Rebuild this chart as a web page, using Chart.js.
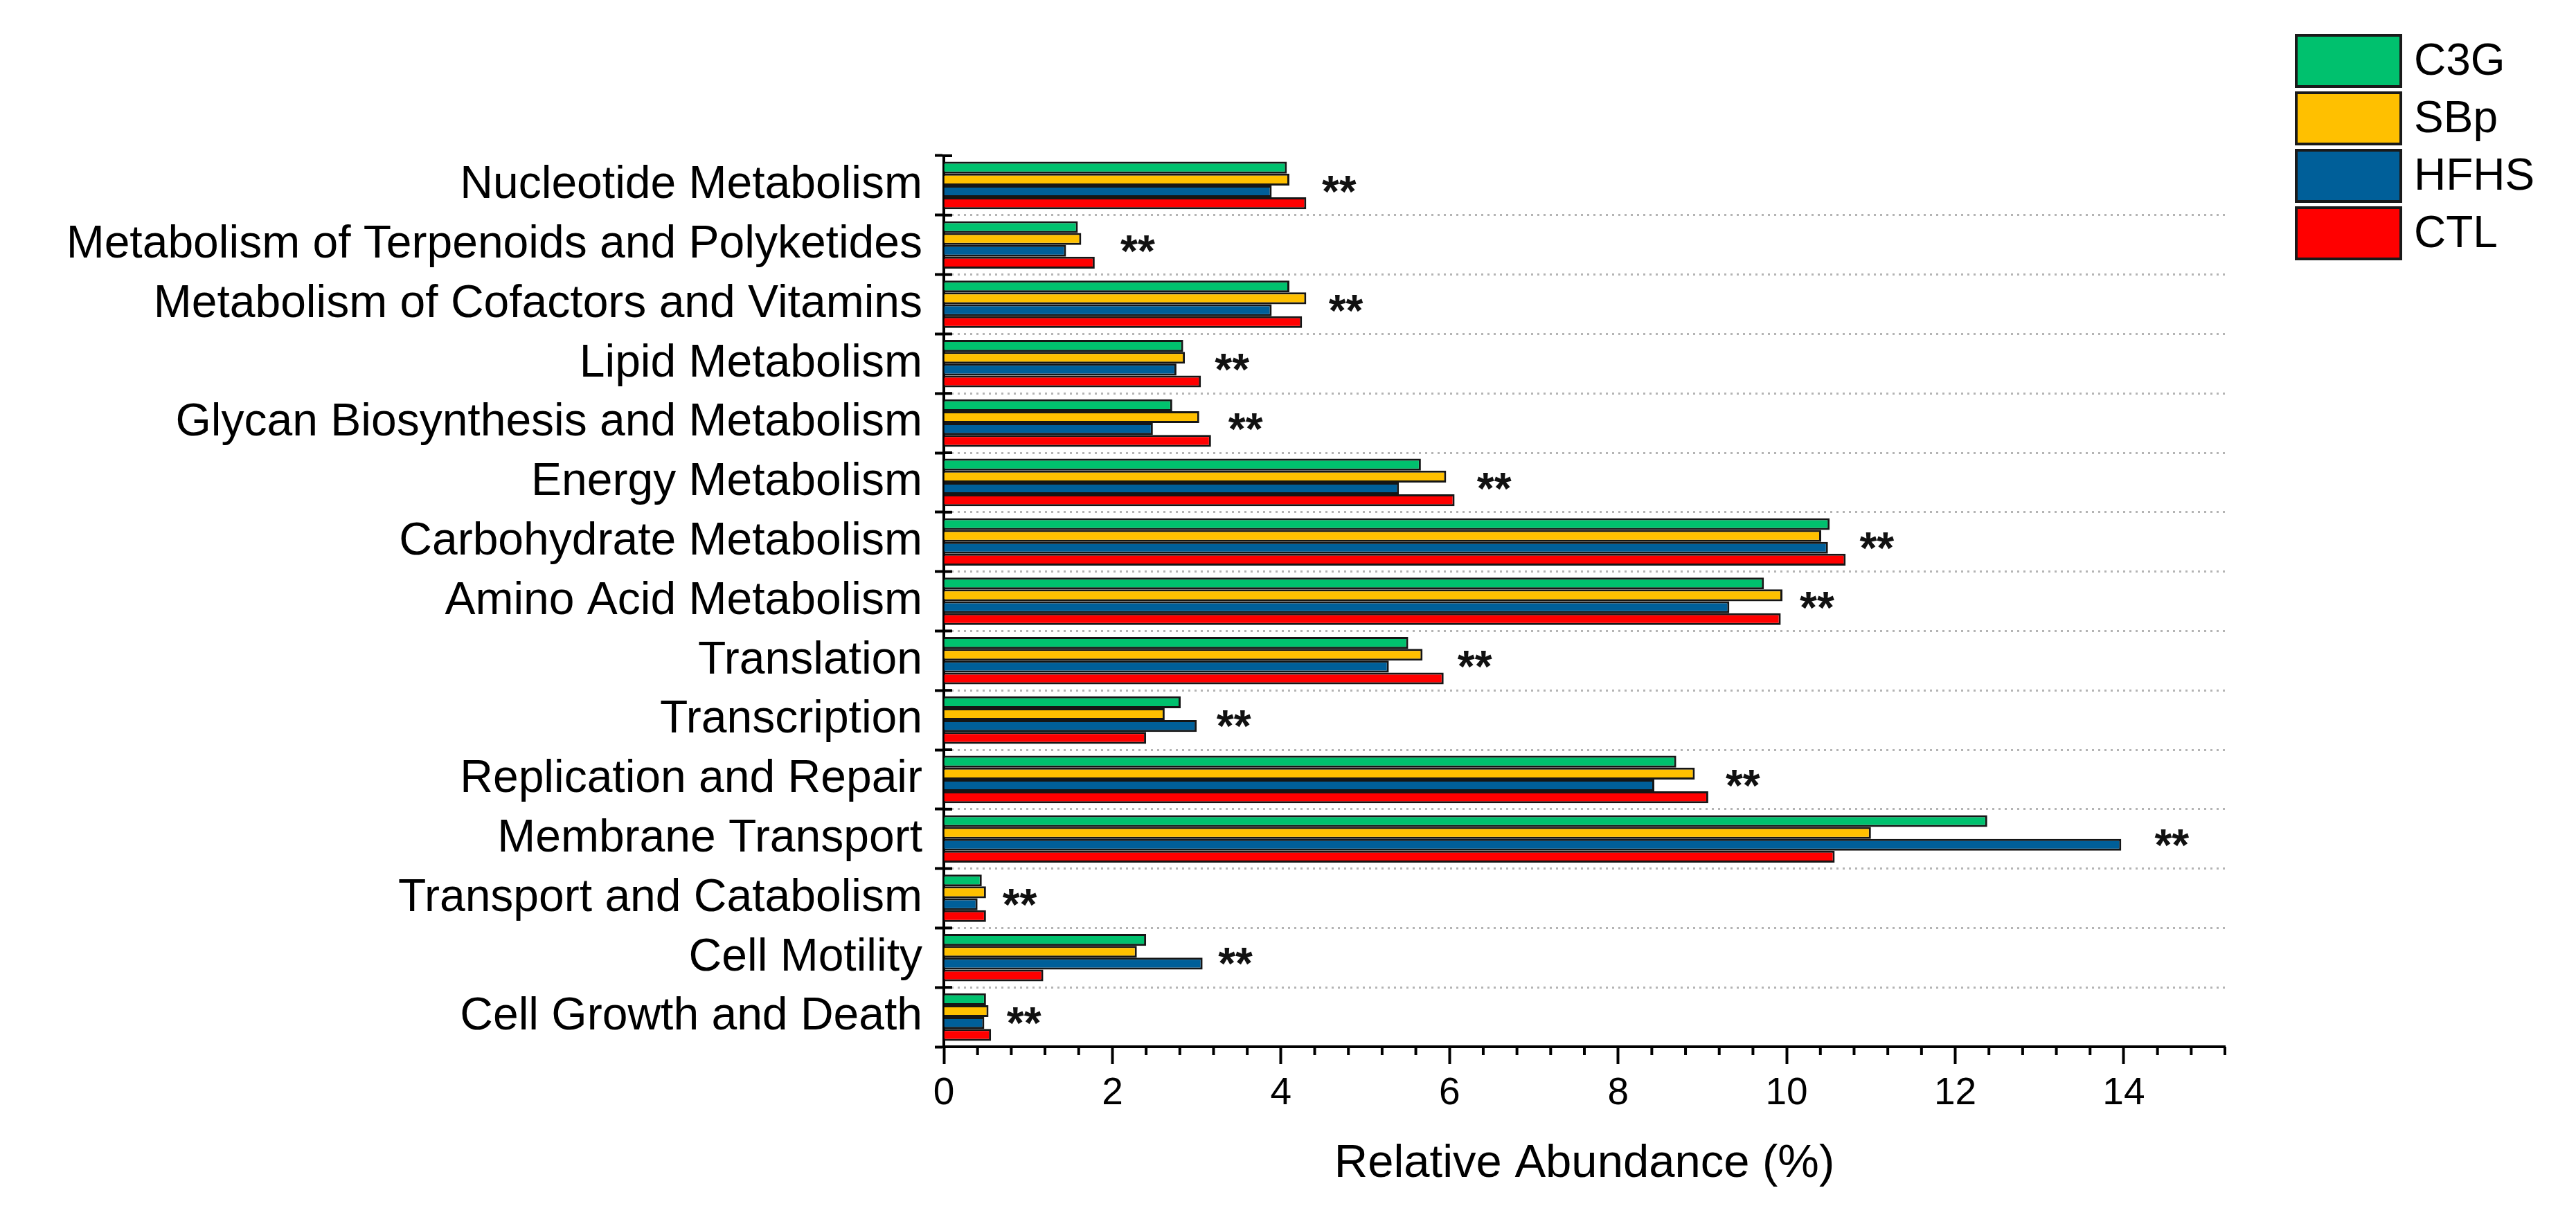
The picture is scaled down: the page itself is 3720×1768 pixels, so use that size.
<!DOCTYPE html>
<html>
<head>
<meta charset="utf-8">
<script src="https://cdn.jsdelivr.net/npm/chart.js@4.4.1/dist/chart.umd.min.js"></script>
<style>
  html, body { margin:0; padding:0; background:#fff; }
  #wrap { width:3720px; height:1768px; }
</style>
</head>
<body>
<div id="wrap"><canvas id="chart" width="3720" height="1768"></canvas></div>
<script>
// ================= DATA =================
const categories = [
  "Nucleotide Metabolism",
  "Metabolism of Terpenoids and Polyketides",
  "Metabolism of Cofactors and Vitamins",
  "Lipid Metabolism",
  "Glycan Biosynthesis and Metabolism",
  "Energy Metabolism",
  "Carbohydrate Metabolism",
  "Amino Acid Metabolism",
  "Translation",
  "Transcription",
  "Replication and Repair",
  "Membrane Transport",
  "Transport and Catabolism",
  "Cell Motility",
  "Cell Growth and Death"
];
const c3g  = [4.07, 1.59, 4.10, 2.84, 2.71, 5.66, 10.51, 9.73, 5.51, 2.81, 8.69, 12.38, 0.45, 2.40, 0.50];
const sbp  = [4.10, 1.63, 4.30, 2.86, 3.03, 5.96, 10.41, 9.95, 5.68, 2.62, 8.91, 11.00, 0.50, 2.29, 0.53];
const hfhs = [3.89, 1.45, 3.89, 2.76, 2.48, 5.40, 10.49, 9.32, 5.28, 3.00, 8.43, 13.97, 0.40, 3.07, 0.48];
const ctl  = [4.30, 1.79, 4.25, 3.05, 3.17, 6.06, 10.70, 9.93, 5.93, 2.40, 9.07, 10.57, 0.50, 1.18, 0.56];
// where the "**" marks sit (x value)
const starPos = [4.69, 2.30, 4.77, 3.42, 3.58, 6.53, 11.07, 10.36, 6.30, 3.44, 9.48, 14.57, 0.90, 3.46, 0.95];
const starText = "**";
const xTicks = [0, 2, 4, 6, 8, 10, 12, 14];
const xMax = 15.2;
const minorStep = 0.4;
const seriesNames = ["C3G", "SBp", "HFHS", "CTL"];
const seriesColors = ["#00c16e", "#ffc000", "#005f99", "#ff0000"];

const FONT = "'Liberation Sans', Arial, sans-serif";

// ================= PLUGINS =================
// stars next to each group
const starsPlugin = {
  id: "stars",
  afterDatasetsDraw(chart){
    const {ctx, scales:{x, y}} = chart;
    ctx.save();
    ctx.fillStyle = "#111";
    ctx.font = "bold 64px " + FONT;
    ctx.textAlign = "center";
    ctx.textBaseline = "alphabetic";
    starPos.forEach((v, i) => {
      ctx.fillText(starText, x.getPixelForValue(v), y.getPixelForValue(i) + 31);
    });
    ctx.restore();
  }
};

// minor ticks on x, inner half of y ticks
const ticksPlugin = {
  id: "extraTicks",
  afterDraw(chart){
    const {ctx, chartArea, scales:{x, y}} = chart;
    ctx.save();
    ctx.strokeStyle = "#000";
    ctx.lineWidth = 4;
    // x minor ticks
    for(let v = minorStep; v <= xMax + 1e-6; v += minorStep){
      const r = Math.round(v * 10) / 10;
      if(xTicks.includes(r)) continue;
      const px = x.getPixelForValue(r);
      ctx.beginPath();
      ctx.moveTo(px, chartArea.bottom);
      ctx.lineTo(px, chartArea.bottom + 12);
      ctx.stroke();
    }
    // y ticks crossing the axis
    const band = y.getPixelForValue(1) - y.getPixelForValue(0);
    for(let i = 0; i <= categories.length; i++){
      const py = i < categories.length ? y.getPixelForValue(i) - band / 2 : chartArea.bottom;
      ctx.beginPath();
      ctx.moveTo(chartArea.left, py);
      ctx.lineTo(chartArea.left + 12, py);
      ctx.stroke();
    }
    ctx.restore();
  }
};

// legend top right
const legendPlugin = {
  id: "boxLegend",
  afterDraw(chart){
    const ctx = chart.ctx;
    const left = 3316, top = 51, w = 151, h = 74, step = 83;
    ctx.save();
    ctx.font = "64px " + FONT;
    ctx.textBaseline = "middle";
    ctx.textAlign = "left";
    chart.data.datasets.forEach((ds, i) => {
      const ty = top + i * step;
      ctx.fillStyle = ds.backgroundColor;
      ctx.fillRect(left, ty, w, h);
      ctx.strokeStyle = "#1a1a1a";
      ctx.lineWidth = 4;
      ctx.strokeRect(left, ty, w, h);
      ctx.fillStyle = "#000";
      ctx.fillText(ds.label, left + w + 19, ty + h / 2 + 2);
    });
    ctx.restore();
  }
};

// ================= CHART =================
const datasets = [c3g, sbp, hfhs, ctl].map((vals, i) => ({
  label: seriesNames[i],
  data: vals,
  backgroundColor: seriesColors[i],
  borderColor: "#151515",
  borderWidth: 3,
  categoryPercentage: 0.8,
  barPercentage: 1.0
}));

new Chart(document.getElementById("chart"), {
  type: "bar",
  data: { labels: categories, datasets },
  options: {
    indexAxis: "y",
    responsive: false,
    animation: false,
    devicePixelRatio: 1,
    layout: { padding: { top: 225, right: 507, left: 0, bottom: 0 } },
    plugins: { legend: { display: false }, tooltip: { enabled: false } },
    scales: {
      x: {
        min: 0, max: xMax,
        afterBuildTicks: s => { s.ticks = xTicks.map(v => ({ value: v })); },
        afterFit: s => { s.height = 256; },
        border: { display: true, color: "#000", width: 4 },
        grid: { drawOnChartArea: false, drawTicks: true, tickLength: 25, tickWidth: 4, tickColor: "#000" },
        ticks: { color: "#000", font: { family: FONT, size: 55 }, padding: 10, maxRotation: 0, autoSkip: false },
        title: { display: true, text: "Relative Abundance (%)", color: "#000",
                 font: { family: FONT, size: 67 }, padding: { top: 0, bottom: 46 } }
      },
      y: {
        afterFit: s => { s.width = 1363; },
        // in v4 border.dash sets the dash of the grid lines
        border: { display: true, color: "#000", width: 4, dash: [3, 6] },
        grid: {
          offset: true,
          drawOnChartArea: true,
          color: c => c.index === 0 ? "rgba(0,0,0,0)" : "#b4b4b4",
          lineWidth: 3,
          tickLength: 13,
          tickWidth: 4,
          tickColor: "#000",
          tickBorderDash: []
        },
        ticks: { color: "#000", font: { family: FONT, size: 66 }, padding: 18, autoSkip: false }
      }
    }
  },
  plugins: [starsPlugin, ticksPlugin, legendPlugin]
});
</script>
</body>
</html>
